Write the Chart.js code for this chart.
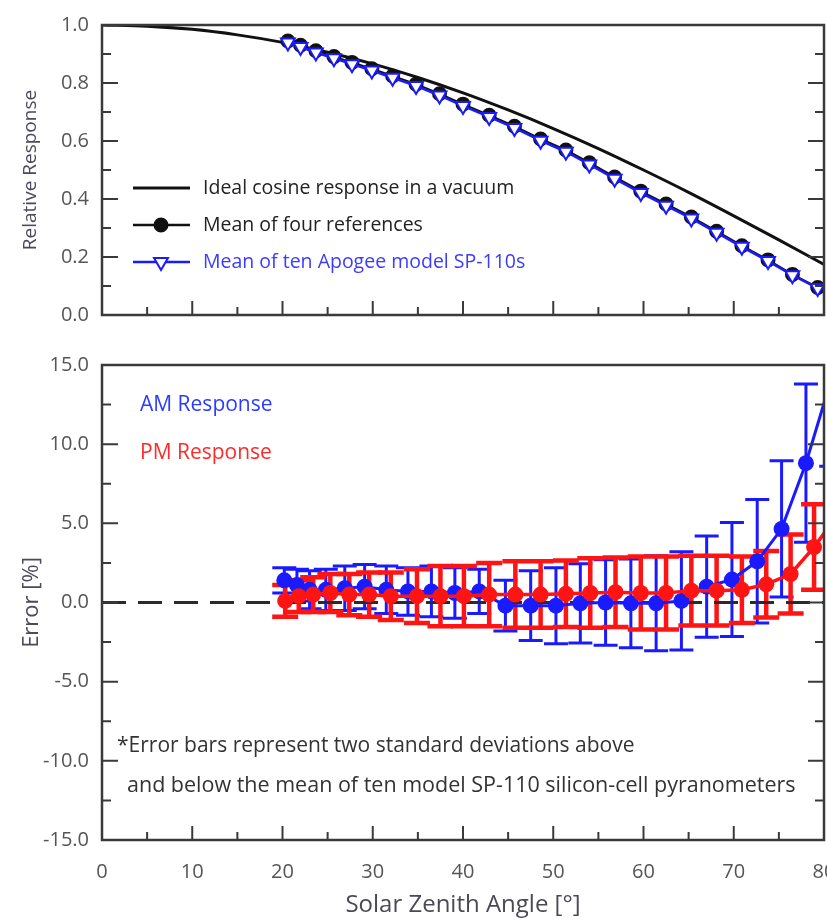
<!DOCTYPE html>
<html lang="en">
<head>
<meta charset="utf-8">
<title>SP-110 cosine response</title>
<script src="https://cdn.jsdelivr.net/npm/chart.js@4.4.1/dist/chart.umd.min.js"></script>
<style>
    html, body { margin: 0; padding: 0; background: #fff; overflow: hidden; width: 827px; height: 921px; }
    #panelSuperior { position: absolute; left: 0; top: 0; }
    #panelInferior { position: absolute; left: 0; top: 340px; }
</style>
</head>
<body>
<canvas id="panelSuperior" width="860" height="340"></canvas>
<canvas id="panelInferior" width="860" height="581"></canvas>
<script>

// ---- datos ----
let ticksAngulo = [0, 10, 20, 30, 40, 50, 60, 70, 80];
let ticksRespuesta = [0, 0.2, 0.4, 0.6, 0.8, 1.0];
let ticksError = [-15, -10, -5, 0, 5, 10, 15];

// respuesta ideal (coseno en vacio)
let angulosCoseno = [0, 5, 10, 15, 20, 25, 30, 35, 40, 45, 50, 55, 60, 65, 70, 75, 80];
let cosenoIdeal = [1.0, 0.996, 0.985, 0.966, 0.94, 0.906, 0.866, 0.819, 0.766, 0.707, 0.643, 0.574, 0.5, 0.423, 0.342, 0.259, 0.174];

// medias panel superior
let angulosMedicion = [20.6, 22.0, 23.7, 25.7, 27.7, 29.9, 32.2, 34.8, 37.4, 40.0, 42.9, 45.7, 48.6, 51.4, 54.0, 56.8, 59.7, 62.5, 65.3, 68.1, 70.9, 73.8, 76.5, 79.3];
let respReferencias = [0.945, 0.93, 0.911, 0.891, 0.871, 0.849, 0.824, 0.796, 0.763, 0.727, 0.689, 0.651, 0.607, 0.569, 0.525, 0.476, 0.427, 0.383, 0.338, 0.289, 0.239, 0.19, 0.14, 0.095];
let respSP110 = [0.94, 0.924, 0.905, 0.885, 0.865, 0.843, 0.818, 0.79, 0.757, 0.721, 0.683, 0.645, 0.601, 0.563, 0.519, 0.47, 0.421, 0.377, 0.333, 0.284, 0.235, 0.186, 0.137, 0.093];

// panel inferior: error AM / PM y dos desviaciones estandar
let angulosAM = [20.2, 21.6, 23.0, 24.8, 26.9, 29.1, 31.5, 33.9, 36.5, 39.1, 41.8, 44.7, 47.5, 50.3, 53.0, 55.8, 58.6, 61.4, 64.2, 67.0, 69.8, 72.6, 75.3, 78.0, 80.8];
let errorAM = [1.4, 1.1, 0.8, 0.8, 0.9, 1.0, 0.8, 0.7, 0.7, 0.6, 0.7, -0.2, -0.2, -0.2, -0.05, 0.0, -0.05, -0.05, 0.1, 1.0, 1.45, 2.6, 4.65, 8.8, 14.1];
let desvAM = [0.8, 1.0, 1.2, 1.3, 1.4, 1.4, 1.5, 1.5, 1.6, 1.6, 1.4, 1.6, 2.2, 2.4, 2.5, 2.7, 2.8, 3.0, 3.1, 3.2, 3.6, 3.9, 4.3, 5.0, 5.5];

let angulosPM = [20.3, 21.8, 23.4, 25.3, 27.4, 29.6, 32.0, 34.9, 37.5, 40.1, 42.9, 45.8, 48.6, 51.4, 54.1, 56.9, 59.7, 62.5, 65.3, 68.1, 70.9, 73.6, 76.3, 78.9, 81.6];
let errorPM = [0.1, 0.4, 0.5, 0.6, 0.5, 0.5, 0.4, 0.4, 0.4, 0.4, 0.5, 0.5, 0.5, 0.55, 0.6, 0.65, 0.6, 0.6, 0.75, 0.75, 0.8, 1.15, 1.8, 3.5, 5.6];
let desvPM = [1.0, 1.0, 1.1, 1.2, 1.3, 1.4, 1.5, 1.7, 1.9, 1.9, 2.0, 2.1, 2.1, 2.1, 2.2, 2.2, 2.3, 2.3, 2.2, 2.2, 2.1, 2.1, 2.5, 2.7, 2.8];

let lineaCeroX = [0, 80];
let lineaCeroY = [0, 0];

const AZUL = "#1a1aff";
const ROJO = "#ff1414";
const FUENTE = "'Open Sans', sans-serif";

Chart.defaults.font.family = FUENTE;
Chart.defaults.color = "#555";

function puntos(xs, ys) {
    return xs.map((x, i) => ({ x: x, y: ys[i] }));
}

// marco, ticks hacia adentro y textos sueltos
const marcoPanel = {
    id: 'marcoPanel',
    afterDatasetsDraw(chart, args, opts) {
        const { ctx, chartArea: a, scales: { x, y } } = chart;
        ctx.save();
        ctx.strokeStyle = "#3a3a3a";
        ctx.lineWidth = 2;
        ctx.beginPath();
        opts.ticksY.forEach((v, i) => {
            let py = y.getPixelForValue(v);
            ctx.moveTo(a.left, py); ctx.lineTo(a.left + 16, py);
            ctx.moveTo(a.right, py); ctx.lineTo(a.right - 16, py);
            if (i < opts.ticksY.length - 1) {
                let pm = y.getPixelForValue((v + opts.ticksY[i + 1]) / 2);
                ctx.moveTo(a.left, pm); ctx.lineTo(a.left + 9, pm);
                ctx.moveTo(a.right, pm); ctx.lineTo(a.right - 9, pm);
            }
        });
        ticksAngulo.forEach((v, i) => {
            let px = x.getPixelForValue(v);
            ctx.moveTo(px, a.bottom); ctx.lineTo(px, a.bottom - 14);
            if (i < ticksAngulo.length - 1) {
                let pm = x.getPixelForValue(v + 5);
                ctx.moveTo(pm, a.bottom); ctx.lineTo(pm, a.bottom - 8);
            }
        });
        ctx.stroke();
        ctx.lineWidth = 2.5;
        ctx.strokeRect(a.left, a.top, a.right - a.left, a.bottom - a.top);

        (opts.textos || []).forEach(t => {
            ctx.font = t.font;
            ctx.fillStyle = t.color;
            ctx.textBaseline = "middle";
            ctx.textAlign = "left";
            ctx.fillText(t.texto, t.x, t.y);
        });
        (opts.muestras || []).forEach(m => {
            ctx.strokeStyle = m.color;
            ctx.lineWidth = m.ancho;
            ctx.beginPath();
            ctx.moveTo(133, m.y); ctx.lineTo(190, m.y);
            ctx.stroke();
            if (m.marca) {
                ctx.fillStyle = m.relleno;
                ctx.lineWidth = 2;
                ctx.beginPath();
                if (m.marca === 'circle') {
                    ctx.arc(161, m.y, m.radio, 0, Math.PI * 2);
                } else {
                    ctx.moveTo(161 - m.radio * 0.87, m.y - m.radio * 0.5);
                    ctx.lineTo(161 + m.radio * 0.87, m.y - m.radio * 0.5);
                    ctx.lineTo(161, m.y + m.radio);
                    ctx.closePath();
                }
                ctx.fill();
                ctx.stroke();
            }
        });
        ctx.restore();
    }
};

// barras de error (+/- dos desviaciones)
const barrasError = {
    id: 'barrasError',
    beforeDatasetsDraw(chart, args, opts) {
        const { ctx, chartArea: a, scales: { x, y } } = chart;
        ctx.save();
        ctx.beginPath();
        ctx.rect(a.left, a.top, a.right - a.left, a.bottom - a.top);
        ctx.clip();
        opts.series.forEach(s => {
            ctx.strokeStyle = s.color;
            ctx.lineWidth = s.ancho;
            s.angulos.forEach((ang, i) => {
                let px = x.getPixelForValue(ang);
                let yArr = y.getPixelForValue(s.valores[i] + s.desv[i]);
                let yAba = y.getPixelForValue(s.valores[i] - s.desv[i]);
                ctx.beginPath();
                ctx.moveTo(px, yArr); ctx.lineTo(px, yAba);
                ctx.moveTo(px - s.tapa, yArr); ctx.lineTo(px + s.tapa, yArr);
                ctx.moveTo(px - s.tapa, yAba); ctx.lineTo(px + s.tapa, yAba);
                ctx.stroke();
            });
        });
        ctx.restore();
    }
};

function ejeX(mostrar) {
    return {
        type: 'linear',
        min: 0, max: 80,
        display: mostrar,
        afterBuildTicks: s => { s.ticks = ticksAngulo.map(v => ({ value: v })); },
        grid: { display: false, drawTicks: false },
        border: { display: false },
        ticks: { padding: 20, font: { size: 20 }, color: "#555" },
        title: {
            display: mostrar,
            text: 'Solar Zenith Angle [°]',
            color: "#4a4a55",
            font: { size: 24 },
            padding: { top: 0, bottom: 1 }
        },
        afterFit: s => { s.height = mostrar ? 81 : 0; }
    };
}

function ejeY(min, max, ticks, titulo, tam) {
    return {
        type: 'linear',
        min: min, max: max,
        afterBuildTicks: s => { s.ticks = ticks.map(v => ({ value: v })); },
        grid: { display: false, drawTicks: false },
        border: { display: false },
        ticks: { padding: 13, font: { size: 20 }, color: "#555", callback: v => v.toFixed(1) },
        title: {
            display: true,
            text: titulo,
            color: "#4a4a5a",
            font: { size: tam },
            padding: { top: 19, bottom: 0 }
        },
        afterFit: s => { s.width = 102; }
    };
}

// ---- panel superior ----
new Chart(document.getElementById('panelSuperior'), {
    type: 'line',
    plugins: [marcoPanel],
    data: {
        datasets: [{
            label: 'Ideal cosine response in a vacuum',
            data: puntos(angulosCoseno, cosenoIdeal),
            borderColor: "#111",
            borderWidth: 3,
            pointRadius: 0,
            tension: 0.4,
            cubicInterpolationMode: 'monotone',
            order: 3
        }, {
            label: 'Mean of four references',
            data: puntos(angulosMedicion, respReferencias),
            borderColor: "#111",
            backgroundColor: "#111",
            borderWidth: 2,
            pointRadius: 6.5,
            pointStyle: 'circle',
            order: 2
        }, {
            label: 'Mean of ten Apogee model SP-110s',
            data: puntos(angulosMedicion, respSP110),
            borderColor: AZUL,
            backgroundColor: "#fff",
            borderWidth: 2.5,
            pointRadius: 8,
            pointBorderWidth: 2,
            pointStyle: 'triangle',
            pointRotation: 180,
            order: 1
        }]
    },
    options: {
        responsive: false,
        animation: false,
        events: [],
        layout: { padding: { top: 20, right: 36, left: 0, bottom: 15 } },
        scales: {
            x: ejeX(false),
            y: ejeY(0, 1, ticksRespuesta, 'Relative Response', 19)
        },
        plugins: {
            legend: { display: false },
            tooltip: { enabled: false },
            marcoPanel: {
                ticksY: ticksRespuesta,
                textos: [
                    { texto: 'Ideal cosine response in a vacuum', x: 203, y: 188, color: "#222", font: "19.5px " + FUENTE },
                    { texto: 'Mean of four references', x: 203, y: 225, color: "#222", font: "19.5px " + FUENTE },
                    { texto: 'Mean of ten Apogee model SP-110s', x: 203, y: 262, color: "#3b3bff", font: "19.5px " + FUENTE }
                ],
                muestras: [
                    { y: 188, color: "#111", ancho: 3 },
                    { y: 225, color: "#111", ancho: 2.5, marca: 'circle', radio: 6.5, relleno: "#111" },
                    { y: 262, color: AZUL, ancho: 2.5, marca: 'triangle', radio: 8, relleno: "#fff" }
                ]
            }
        }
    }
});

// ---- panel inferior ----
new Chart(document.getElementById('panelInferior'), {
    type: 'line',
    plugins: [barrasError, marcoPanel],
    data: {
        datasets: [{
            label: 'cero',
            data: puntos(lineaCeroX, lineaCeroY),
            borderColor: "#2b2b2b",
            borderWidth: 3,
            borderDash: [24, 12],
            pointRadius: 0,
            order: 3
        }, {
            label: 'AM Response',
            data: puntos(angulosAM, errorAM),
            borderColor: AZUL,
            backgroundColor: AZUL,
            borderWidth: 3,
            pointRadius: 8,
            pointBorderWidth: 0,
            order: 2
        }, {
            label: 'PM Response',
            data: puntos(angulosPM, errorPM),
            borderColor: ROJO,
            backgroundColor: ROJO,
            borderWidth: 3.5,
            pointRadius: 8,
            pointBorderWidth: 0,
            order: 1
        }]
    },
    options: {
        responsive: false,
        animation: false,
        events: [],
        layout: { padding: { top: 19, right: 36, left: 0, bottom: 0 } },
        scales: {
            x: ejeX(true),
            y: ejeY(-15, 15, ticksError, 'Error [%]', 22)
        },
        plugins: {
            legend: { display: false },
            tooltip: { enabled: false },
            barrasError: {
                series: [
                    { angulos: angulosAM, valores: errorAM, desv: desvAM, color: AZUL, ancho: 3, tapa: 12 },
                    { angulos: angulosPM, valores: errorPM, desv: desvPM, color: ROJO, ancho: 4.5, tapa: 13 }
                ]
            },
            marcoPanel: {
                ticksY: ticksError,
                textos: [
                    { texto: 'AM Response', x: 140, y: 65, color: "#2a3cff", font: "21px " + FUENTE },
                    { texto: 'PM Response', x: 140, y: 113, color: "#ff2a2a", font: "21px " + FUENTE },
                    { texto: '*Error bars represent two standard deviations above', x: 117, y: 406, color: "#333", font: "21px " + FUENTE },
                    { texto: 'and below the mean of ten model SP-110 silicon-cell pyranometers', x: 127, y: 446, color: "#333", font: "21.5px " + FUENTE }
                ]
            }
        }
    }
});

</script>
</body>
</html>
